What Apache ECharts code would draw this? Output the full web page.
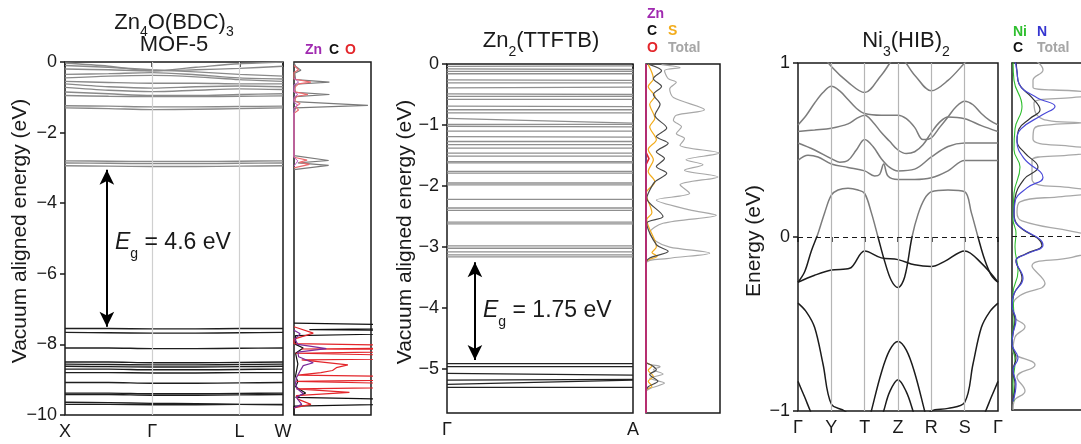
<!DOCTYPE html>
<html><head><meta charset="utf-8">
<script src="https://cdn.jsdelivr.net/npm/echarts@6/dist/echarts.min.js"></script>
<style>html,body{margin:0;padding:0;background:#fff}#c{width:1081px;height:444px}</style>
</head><body><div id="c"></div><script>
// ---------------- Panel 1: Zn4O(BDC)3 MOF-5 ----------------
const kTicks1 = [0, 1, 2, 2.5];
const kLabels1 = ['X', 'Γ', 'L', 'W'];
const eTicks1 = [0, -2, -4, -6, -8, -10];
const kPath1 = [0, 0.5, 1, 1.5, 2, 2.5];
const cbBands1 = [
  [-0.03,-0.12,-0.25,-0.15,-0.05, 0.00],
  [-0.10,-0.15,-0.22,-0.28,-0.35,-0.40],
  [-0.20,-0.22,-0.25,-0.22,-0.18,-0.12],
  [-0.35,-0.33,-0.30,-0.36,-0.45,-0.48],
  [-0.45,-0.40,-0.38,-0.42,-0.50,-0.55],
  [-0.55,-0.58,-0.60,-0.60,-0.62,-0.62],
  [-0.62,-0.70,-0.74,-0.70,-0.68,-0.70],
  [-0.72,-0.80,-0.84,-0.80,-0.76,-0.78],
  [-0.85,-0.90,-0.95,-0.95,-0.92,-0.90],
  [-0.95,-0.97,-0.98,-0.98,-0.97,-0.96],
  [-1.24,-1.25,-1.27,-1.27,-1.26,-1.25],
  [-1.30,-1.32,-1.35,-1.34,-1.32,-1.30],
  [-2.80,-2.81,-2.82,-2.82,-2.81,-2.80],
  [-2.86,-2.87,-2.88,-2.88,-2.87,-2.86],
  [-2.94,-2.95,-2.96,-2.96,-2.95,-2.94]
];
const vbBands1 = [
  [-7.55,-7.55,-7.56,-7.56,-7.55,-7.55],
  [-7.66,-7.67,-7.68,-7.68,-7.67,-7.66],
  [-8.10,-8.10,-8.12,-8.12,-8.11,-8.10],
  [-8.50,-8.50,-8.52,-8.52,-8.51,-8.50],
  [-8.56,-8.57,-8.58,-8.58,-8.57,-8.56],
  [-8.62,-8.63,-8.64,-8.64,-8.63,-8.62],
  [-8.70,-8.70,-8.72,-8.72,-8.71,-8.70],
  [-8.80,-8.80,-8.81,-8.81,-8.80,-8.80],
  [-9.08,-9.08,-9.10,-9.10,-9.09,-9.08],
  [-9.38,-9.38,-9.40,-9.40,-9.39,-9.38],
  [-9.42,-9.42,-9.44,-9.44,-9.43,-9.42],
  [-9.64,-9.65,-9.67,-9.68,-9.70,-9.71],
  [-9.70,-9.70,-9.71,-9.71,-9.70,-9.70]
];
const gap1 = [0.48, -3.05, -7.5];
// DOS 1: [density, energy]
const dos1TotalCB = [[0,-0.02],[0.02,-0.12],[0.09,-0.23],[0.01,-0.32],[0.02,-0.5],[0.46,-0.57],[0.02,-0.63],[0.01,-0.75],[0.02,-0.86],[0.46,-0.92],[0.02,-0.98],[0.01,-1.12],[0.96,-1.23],[0.02,-1.3],[0,-1.45],[0,-2.65],[0.45,-2.79],[0.05,-2.86],[0.45,-2.93],[0,-3.05]];
const dos1TotalVB = [[0,-7.4],[3,-7.5],[0.2,-7.58],[3,-7.64],[0.02,-7.75],[0.02,-8.0],[0.12,-8.1],[0.02,-8.25],[0.05,-8.55],[0.02,-8.9],[0.05,-9.05],[0.02,-9.2],[0.15,-9.38],[0.02,-9.5],[3,-9.62],[0,-9.75],[0,-10]];
const dos1OCB = [[0,-0.1],[0.06,-0.22],[0,-0.3],[0,-0.48],[0.22,-0.57],[0.06,-0.62],[0.02,-0.7],[0,-0.84],[0.18,-0.92],[0.04,-0.97],[0,-1.08],[0.08,-1.18],[0.02,-1.27],[0.06,-1.36],[0,-1.45],[0,-2.7],[0.17,-2.78],[0.07,-2.84],[0.2,-2.9],[0,-3.0]];
const dos1OVB = [[0,-7.5],[0.25,-7.68],[0,-7.85],[0,-7.98],[3,-8.08],[0.1,-8.13],[3,-8.16],[0.02,-8.25],[3,-8.38],[0.1,-8.44],[0.7,-8.58],[0.55,-8.66],[0.5,-8.74],[0.35,-8.8],[0.05,-8.87],[3,-8.96],[0.03,-9.05],[3,-9.18],[0.03,-9.26],[0.72,-9.36],[0.03,-9.45],[0.05,-9.55],[0.22,-9.7],[0,-9.8]];
const dos1ZnCB = [[0,-0.45],[0.06,-0.57],[0,-0.65],[0,-0.85],[0.05,-0.92],[0,-1.0],[0,-1.15],[0.05,-1.22],[0,-1.3],[0,-2.7],[0.05,-2.8],[0,-2.95]];
const dos1ZnVB = [[0,-7.6],[0.08,-7.7],[0.01,-7.85],[0.05,-8.0],[0.42,-8.12],[0.05,-8.22],[0.06,-8.35],[0.25,-8.52],[0.12,-8.6],[0.08,-8.75],[0.03,-8.95],[0.02,-9.1],[0.04,-9.25],[0.12,-9.4],[0.03,-9.5],[0.1,-9.7],[0,-9.8]];

// ---------------- Panel 2: Zn2(TTFTB) ----------------
const kTicks2 = [0, 1];
const kLabels2 = ['Γ', 'A'];
const eTicks2 = [0, -1, -2, -3, -4, -5];
const eMin2 = -5.72;
const kPath2 = [0, 1];
const cbBands2 = [[-0.04,-0.03],[-0.08,-0.09],[-0.12,-0.12],[-0.16,-0.16],[-0.26,-0.27],[-0.31,-0.31],[-0.39,-0.38],[-0.49,-0.50],[-0.53,-0.53],[-0.58,-0.58],[-0.69,-0.70],[-0.75,-0.75],[-0.80,-0.80],[-0.89,-0.97],[-0.99,-0.99],[-1.02,-1.03],[-1.10,-1.10],[-1.19,-1.20],[-1.27,-1.27],[-1.32,-1.32],[-1.38,-1.38],[-1.46,-1.46],[-1.51,-1.51],[-1.60,-1.60],[-1.62,-1.62],[-1.76,-1.76],[-1.79,-1.79],[-1.95,-1.95],[-1.98,-1.98],[-2.22,-2.22],[-2.36,-2.36],[-2.40,-2.40],[-2.59,-2.59],[-2.62,-2.62],[-2.98,-2.98],[-3.02,-3.02],[-3.08,-3.08],[-3.13,-3.13],[-3.16,-3.16]];
const vbBands2 = [[-4.91,-4.91],[-4.96,-4.96],[-5.07,-5.10],[-5.18,-5.17],[-5.25,-5.18],[-5.30,-5.30]];
const gap2 = [0.15, -3.25, -4.85];
const dos2Total = [[0.21,-0.01],[0.46,-0.06],[0.25,-0.11],[0.30,-0.24],[0.41,-0.30],[0.32,-0.41],[0.37,-0.55],[0.79,-0.75],[0.41,-0.84],[0.37,-0.92],[0.48,-1.03],[0.41,-1.14],[0.52,-1.22],[0.46,-1.33],[0.99,-1.46],[0.54,-1.57],[0.77,-1.65],[0.52,-1.74],[0.97,-1.85],[0.46,-1.98],[0.59,-2.12],[0.14,-2.23],[0.59,-2.39],[0.95,-2.48],[0.23,-2.61],[0.05,-2.77],[0.14,-2.91],[0.32,-3.0],[0.86,-3.1],[0.28,-3.19],[0,-3.27],[0,-4.88],[0.19,-4.96],[0.1,-5.01],[0.23,-5.08],[0.05,-5.15],[0.25,-5.23],[0.05,-5.32],[0,-5.37],[0,-5.72]];
const dos2C = [[0.05,-0.01],[0.21,-0.11],[0.10,-0.24],[0.21,-0.37],[0.10,-0.50],[0.19,-0.66],[0.12,-0.84],[0.28,-1.05],[0.14,-1.19],[0.30,-1.30],[0.14,-1.44],[0.25,-1.55],[0.14,-1.68],[0.28,-1.79],[0.12,-1.93],[0.05,-2.07],[0.01,-2.2],[0.23,-2.5],[0.01,-2.61],[0.14,-2.96],[0.30,-3.07],[0.05,-3.18],[0,-3.27],[0,-4.88],[0.08,-4.94],[0.14,-5.01],[0.05,-5.09],[0.16,-5.2],[0.03,-5.29],[0,-5.37],[0,-5.72]];
const dos2S = [[0.03,-0.01],[0.10,-0.24],[0.03,-0.37],[0.12,-0.53],[0.05,-0.66],[0.12,-0.89],[0.05,-1.03],[0.14,-1.24],[0.03,-1.40],[0.10,-1.57],[0.03,-1.76],[0.12,-1.93],[0.0,-2.12],[0.08,-2.44],[0.01,-2.55],[0.14,-3.0],[0.08,-3.09],[0.15,-3.15],[0,-3.25],[0,-4.88],[0.08,-4.95],[0.03,-5.02],[0.10,-5.12],[0.03,-5.2],[0.08,-5.28],[0,-5.35],[0,-5.72]];
const dos2O = [[0,0],[0,-1.45],[0.04,-1.55],[0,-1.65],[0,-5.72]];
const dos2Zn = [[0,0],[0,-5.72]];

// ---------------- Panel 3: Ni3(HIB)2 ----------------
const kTicks3 = [0, 1, 2, 3, 4, 5, 6];
const kLabels3 = ['Γ', 'Y', 'T', 'Z', 'R', 'S', 'Γ'];
const eTicks3 = [1, 0, -1];
const bands3 = [
  [[0,1.20],[0.5,1.10],[1,0.98],[1.5,0.89],[2,0.83],[2.5,0.93],[3,1.04],[3.5,0.93],[4,0.84],[4.5,0.90],[5,1.0],[5.5,1.10],[6,1.20]],
  [[0,0.644],[0.25,0.70],[0.5,0.77],[0.75,0.83],[1,0.866],[1.25,0.84],[1.5,0.79],[1.75,0.74],[2,0.71],[2.5,0.70],[3,0.70],[3.25,0.68],[3.5,0.63],[3.75,0.56],[4,0.57],[4.25,0.63],[4.5,0.69],[4.75,0.75],[5,0.78],[5.25,0.76],[5.5,0.71],[5.75,0.67],[6,0.644]],
  [[0,0.606],[0.5,0.615],[1,0.625],[1.5,0.65],[1.75,0.68],[2,0.70],[2.25,0.66],[2.5,0.60],[2.75,0.55],[3,0.50],[3.25,0.48],[3.5,0.49],[3.75,0.53],[4,0.60],[4.25,0.66],[4.5,0.69],[5,0.68],[5.5,0.64],[6,0.606]],
  [[0,0.54],[0.5,0.50],[1,0.45],[1.25,0.43],[1.5,0.44],[1.75,0.50],[2,0.56],[2.25,0.52],[2.5,0.45],[2.75,0.40],[3,0.38],[3.5,0.39],[4,0.46],[4.5,0.52],[5,0.54],[6,0.54]],
  [[0,0.44],[0.3,0.47],[0.6,0.46],[1,0.42],[1.5,0.40],[2,0.38],[2.3,0.35],[2.45,0.36],[2.57,0.42],[2.7,0.35],[3,0.33],[3.5,0.33],[4,0.34],[4.5,0.38],[5,0.44],[5.5,0.44],[6,0.44]],
  [[0,-0.26],[0.2,-0.2],[0.4,-0.08],[0.6,0.02],[0.8,0.14],[1,0.24],[1.2,0.27],[1.5,0.28],[1.8,0.27],[2,0.25],[2.2,0.14],[2.4,0.0],[2.6,-0.14],[2.8,-0.25],[3,-0.29],[3.2,-0.23],[3.42,0.0],[3.6,0.13],[3.8,0.22],[4,0.26],[4.5,0.27],[5,0.26],[5.2,0.14],[5.4,0.0],[5.6,-0.13],[5.8,-0.22],[6,-0.26]],
  [[0,-0.26],[0.5,-0.22],[1,-0.19],[1.55,-0.18],[2,-0.08],[2.5,-0.12],[3,-0.13],[3.5,-0.16],[4,-0.17],[4.4,-0.14],[5,-0.08],[5.5,-0.15],[6,-0.26]],
  [[0,-0.38],[0.25,-0.43],[0.5,-0.52],[0.75,-0.73],[1,-0.96],[1.4,-1.0],[2,-1.1],[3,-1.2],[4,-1.0],[4.5,-0.985],[5,-0.95],[5.25,-0.73],[5.5,-0.52],[5.75,-0.43],[6,-0.38]],
  [[2,-1.15],[2.2,-1.0],[2.5,-0.78],[2.75,-0.65],[3,-0.60],[3.25,-0.65],[3.5,-0.78],[3.8,-1.0],[4,-1.15]],
  [[2.4,-1.1],[2.57,-1.0],[2.75,-0.89],[3,-0.82],[3.25,-0.89],[3.45,-1.0],[3.6,-1.1]],
  [[0,-0.83],[0.2,-0.92],[0.37,-1.0],[0.6,-1.1]],
  [[5.4,-1.1],[5.63,-1.0],[5.8,-0.92],[6,-0.83]]
];
const dos3Total = [[0.22,1.02],[0.31,0.96],[0.21,0.9],[0.21,0.86],[0.6,0.84],[1.1,0.82],[0.6,0.8],[0.22,0.77],[0.25,0.7],[0.4,0.665],[0.7,0.655],[0.4,0.645],[0.22,0.62],[0.21,0.56],[0.6,0.52],[1.1,0.5],[0.6,0.47],[0.2,0.44],[0.2,0.33],[0.6,0.28],[1.0,0.26],[0.5,0.23],[0.08,0.2],[0.05,0.14],[0.1,0.09],[0.6,0.03],[1.1,-0.04],[0.6,-0.12],[0.2,-0.17],[0.33,-0.27],[0.08,-0.34],[0.01,-0.4],[0.02,-0.46],[0.13,-0.52],[0.03,-0.58],[0.01,-0.66],[0.23,-0.74],[0.05,-0.81],[0.13,-0.89],[0.02,-0.95],[0.01,-1.0]];
const dos3N = [[0.03,1.02],[0.05,0.95],[0.07,0.88],[0.25,0.8],[0.43,0.75],[0.3,0.7],[0.09,0.62],[0.05,0.55],[0.12,0.45],[0.31,0.34],[0.15,0.28],[0.03,0.2],[0.02,0.12],[0.05,0.07],[0.31,-0.05],[0.15,-0.1],[0.04,-0.14],[0.11,-0.24],[0.02,-0.33],[0.0,-0.4],[0.04,-0.48],[0.01,-0.56],[0.0,-0.62],[0.06,-0.7],[0.01,-0.77],[0.04,-0.85],[0.01,-0.95]];
const dos3C = [[0.04,1.02],[0.05,0.95],[0.07,0.88],[0.2,0.8],[0.28,0.73],[0.18,0.68],[0.07,0.62],[0.05,0.55],[0.13,0.48],[0.26,0.4],[0.12,0.33],[0.03,0.22],[0.02,0.14],[0.04,0.08],[0.3,-0.05],[0.14,-0.1],[0.04,-0.14],[0.1,-0.24],[0.02,-0.33],[0.0,-0.4],[0.03,-0.48],[0.01,-0.56],[0.0,-0.62],[0.04,-0.7],[0.01,-0.77],[0.03,-0.85],[0.01,-0.95]];
const dos3Ni = [[0.01,1.02],[0.02,0.9],[0.1,0.75],[0.03,0.62],[0.02,0.5],[0.08,0.4],[0.02,0.25],[0.01,0.1],[0.04,0.02],[0.03,-0.06],[0.06,-0.2],[0.01,-0.33],[0.02,-0.48],[0.0,-0.6],[0.03,-0.72],[0.01,-0.85],[0.02,-0.95]];

// ---------------- build ----------------
const FONT = '"Liberation Sans", Arial, Helvetica, sans-serif';
const INK = '#1a1a1a';
const CB = '#8a8a8a', VB = '#1e1e1e';
const COL = {Zn:'#a02ab0', C:'#111111', O:'#e3262b', S:'#f2ac1c', Total:'#a6a6a6', Ni:'#2fbf2f', N:'#3535d0'};
const minus = v => String(v).replace('-', '\u2212');

const gridBox = (l, t, w, h, show) => ({left:l, top:t, width:w, height:h, show:show !== false, borderColor:INK, borderWidth:1.5, backgroundColor:'transparent'});
const grids = [
  gridBox(65,62,218,353), gridBox(294,62,77,353),
  gridBox(447,64,186,349), gridBox(646,64,74,349),
  gridBox(798,63,200,348), gridBox(1012,63,69,347,false),
  gridBox(798,63,200,174,false), gridBox(798,237,200,174,false)   // clip halves for panel 3 (above / below E = 0)
];

function visAxis(idx, min, max, ticks, fmt) {
  return {gridIndex:idx, type:'value', min, max,
    axisLine:{show:false}, splitLine:{show:false},
    axisTick:{show:true, length:5, customValues:ticks, lineStyle:{color:INK, width:1.5}},
    axisLabel:{show:true, customValues:ticks, formatter:fmt, fontSize:18, color:INK, fontFamily:FONT, margin:8}};
}
const hidAxis = (idx, min, max) => ({gridIndex:idx, type:'value', min, max, show:false, splitLine:{show:false}});
const lineAxis = (idx, min, max, pos) => ({gridIndex:idx, type:'value', min, max, position:pos,
  axisLine:{show:true, onZero:false, lineStyle:{color:INK, width:1.5}}, axisTick:{show:false}, axisLabel:{show:false}, splitLine:{show:false}});

const xAxes = [
  visAxis(0, 0, 2.5, kTicks1, v => kLabels1[kTicks1.indexOf(v)]),
  hidAxis(1, 0, 1),
  visAxis(2, 0, 1, kTicks2, v => kLabels2[kTicks2.indexOf(v)]),
  hidAxis(3, 0, 1),
  visAxis(4, 0, 6, kTicks3, v => kLabels3[kTicks3.indexOf(v)]),
  lineAxis(5, 0, 0.69, 'bottom'),
  hidAxis(6, 0, 6),
  hidAxis(7, 0, 6),
  lineAxis(5, 0, 0.69, 'top')
];
const yAxes = [
  visAxis(0, -10, 0, eTicks1, minus),
  hidAxis(1, -10, 0),
  visAxis(2, eMin2, 0, eTicks2, minus),
  hidAxis(3, eMin2, 0),
  visAxis(4, -1, 1, eTicks3, minus),
  lineAxis(5, -1, 1, 'left'),
  hidAxis(6, 0, 1),
  hidAxis(7, -1, 0)
];

const series = [];
function line(g, data, color, width, smooth, z) {
  series.push({type:'line', xAxisIndex:g, yAxisIndex:g, data, symbol:'none', showSymbol:false, smooth:smooth,
    lineStyle:{width:width, color:color}, itemStyle:{color:color}, silent:true, z:z||3, clip:true});
}
function vlines(g, vals, color) {
  series.push({type:'line', xAxisIndex:g, yAxisIndex:g, data:[], z:1, silent:true,
    markLine:{silent:true, symbol:'none', label:{show:false}, animation:false,
      lineStyle:{color, width:1.2, type:'solid'}, data: vals.map(v => ({xAxis:v}))}});
}
function arrow(g, a) {
  series.push({type:'line', xAxisIndex:g, yAxisIndex:g, data:[], z:5, silent:true,
    markLine:{silent:true, symbol:['arrow','arrow'], symbolSize:[11,15], label:{show:false}, animation:false,
      lineStyle:{color:'#000', width:2, type:'solid'}, data:[[{coord:[a[0], a[1]]},{coord:[a[0], a[2]]}]]}});
}
function hdash(g, val) {
  series.push({type:'line', xAxisIndex:g, yAxisIndex:g, data:[], z:6, silent:true,
    markLine:{silent:true, symbol:'none', label:{show:false}, animation:false,
      lineStyle:{color:INK, width:1.2, type:[5,4]}, data:[{yAxis:val}]}});
}

// panel 1
vlines(0, kTicks1.slice(1, -1), '#cfcfcf');
cbBands1.forEach(b => line(0, kPath1.map((k,i) => [k, b[i]]), CB, 1.4, 0.3));
vbBands1.forEach(b => line(0, kPath1.map((k,i) => [k, b[i]]), VB, 1.4, 0.3));
arrow(0, gap1);
line(1, dos1TotalCB, '#7a7a7a', 1.2, false);
line(1, dos1TotalVB, '#111', 1.2, false);
line(1, dos1OCB, '#ec6b6f', 1.1, false);
line(1, dos1ZnCB, '#c45cc8', 1.0, false);
line(1, dos1OVB, COL.O, 1.2, false);
line(1, dos1ZnVB, '#7a2a9a', 1.2, false);
// panel 2
cbBands2.forEach(b => line(2, kPath2.map((k,i) => [k, b[i]]), '#8f8f8f', 1.3, false));
vbBands2.forEach(b => line(2, kPath2.map((k,i) => [k, b[i]]), '#222', 1.3, false));
arrow(2, gap2);
line(3, dos2Total, '#a8a8a8', 1.2, 0.3);
line(3, dos2S, COL.S, 1.2, 0.3);
line(3, dos2C, '#4a4a4a', 1.2, 0.3);
line(3, dos2O, COL.O, 1.6, false);
line(3, dos2Zn, COL.Zn, 1.0, false);
// panel 3 : each band drawn grey in the upper half and black in the lower half
vlines(4, kTicks3.slice(1, -1), '#b5b5b5');
bands3.forEach(b => { line(6, b, '#7c7c7c', 1.5, 0.35); line(7, b, '#1c1c1c', 1.5, 0.35); });
hdash(4, 0);
line(5, dos3Total, '#a8a8a8', 1.3, 0.45);
line(5, dos3Ni, COL.Ni, 1.1, 0.45);
line(5, dos3C, '#333', 1.2, 0.45);
line(5, dos3N, '#4a4ad8', 1.2, 0.45);
hdash(5, 0);

// ---------------- texts ----------------
const txt = (x, y, text, o) => ({type:'text', x, y, z:10, silent:true, rotation:(o && o.rot) || 0,
  style:Object.assign({text, fill:INK, fontSize:21, fontFamily:FONT, align:'center', verticalAlign:'middle'}, (o && o.style) || {})});
const subRich = (fs, k) => ({
  m:{fontSize:fs, fontFamily:FONT, fill:INK},
  s:{fontSize:Math.round(fs*0.62), fontFamily:FONT, fill:INK, padding:[Math.round(fs*(k||1.0)),0,0,0]},
  i:{fontSize:fs, fontFamily:FONT, fill:INK, fontStyle:'italic'}
});
const leg = (x, y, t, c) => txt(x, y, t, {style:{fill:c, fontSize:14, fontWeight:'bold', align:'left'}});

const graphics = [
  txt(174, 23, '{m|Zn}{s|4}{m|O(BDC)}{s|3}', {style:{rich:subRich(22, 0.8)}}),
  txt(174, 45, 'MOF-5', {style:{fontSize:22}}),
  txt(541, 41, '{m|Zn}{s|2}{m|(TTFTB)}', {style:{rich:subRich(22)}}),
  txt(906, 41, '{m|Ni}{s|3}{m|(HIB)}{s|2}', {style:{rich:subRich(22)}}),
  txt(20, 231, 'Vacuum aligned energy (eV)', {rot:Math.PI/2}),
  txt(405, 232, 'Vacuum aligned energy (eV)', {rot:Math.PI/2}),
  txt(754, 241, 'Energy (eV)', {rot:Math.PI/2}),
  txt(115, 243, '{i|E}{s|g}{m| = 4.6 eV}', {style:{rich:subRich(23), align:'left'}}),
  txt(483, 311, '{i|E}{s|g}{m| = 1.75 eV}', {style:{rich:subRich(23), align:'left'}}),
  leg(305, 50, 'Zn', COL.Zn), leg(329, 50, 'C', COL.C), leg(345, 50, 'O', COL.O),
  leg(647, 14, 'Zn', COL.Zn), leg(647, 31, 'C', COL.C), leg(668, 31, 'S', COL.S),
  leg(647, 48, 'O', COL.O), leg(668, 48, 'Total', COL.Total),
  leg(1013, 32, 'Ni', COL.Ni), leg(1037, 32, 'N', COL.N),
  leg(1013, 48, 'C', COL.C), leg(1037, 48, 'Total', COL.Total)
];

const chart = echarts.init(document.getElementById('c'), null, {renderer:'canvas'});
chart.setOption({
  animation:false,
  backgroundColor:'#ffffff',
  grid:grids, xAxis:xAxes, yAxis:yAxes,
  series, graphic:graphics
});
</script></body></html>
